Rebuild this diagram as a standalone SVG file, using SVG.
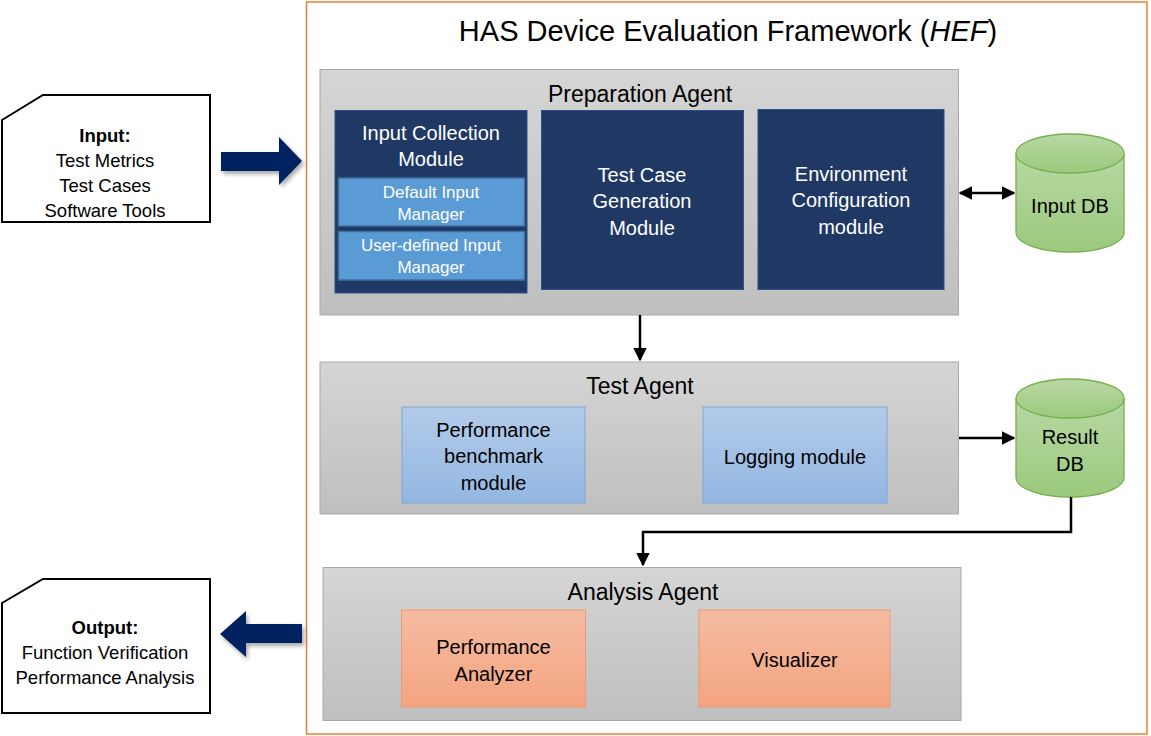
<svg xmlns="http://www.w3.org/2000/svg" width="1151" height="736" viewBox="0 0 1151 736">
  <defs>
    <linearGradient id="gPanel" x1="0" y1="0" x2="0" y2="1">
      <stop offset="0" stop-color="#d5d5d5"/>
      <stop offset="1" stop-color="#bfbfbf"/>
    </linearGradient>
    <linearGradient id="gBlue" x1="0" y1="0" x2="0" y2="1">
      <stop offset="0" stop-color="#b3cbe9"/>
      <stop offset="1" stop-color="#93b7e2"/>
    </linearGradient>
    <linearGradient id="gOrange" x1="0" y1="0" x2="0" y2="1">
      <stop offset="0" stop-color="#f5bca3"/>
      <stop offset="1" stop-color="#f4a47f"/>
    </linearGradient>
    <linearGradient id="gGreen" x1="0" y1="0" x2="0" y2="1">
      <stop offset="0" stop-color="#b8d8a4"/>
      <stop offset="1" stop-color="#9bc97d"/>
    </linearGradient>
    <filter id="shadow" x="-20%" y="-20%" width="150%" height="150%">
      <feGaussianBlur in="SourceAlpha" stdDeviation="2"/>
      <feOffset dx="2" dy="3"/>
      <feComponentTransfer><feFuncA type="linear" slope="0.35"/></feComponentTransfer>
      <feMerge><feMergeNode/><feMergeNode in="SourceGraphic"/></feMerge>
    </filter>
    <marker id="arrow" viewBox="0 0 10 10" refX="9" refY="5" markerWidth="5.5" markerHeight="5.5" orient="auto-start-reverse" markerUnits="strokeWidth">
      <path d="M0,0 L10,5 L0,10 z" fill="#000"/>
    </marker>
  </defs>
  <style>
    text { font-family: "Liberation Sans", Arial, sans-serif; text-anchor: middle; }
    .panel { fill: url(#gPanel); stroke: #a9a9a9; stroke-width: 1; }
    .ptitle { font-size: 23px; fill: #000; }
    .dark { fill: #203864; stroke: #2f4f86; stroke-width: 1; }
    .wt { fill: #fff; font-size: 20px; }
    .sub { fill: #5b9bd5; stroke: #3f6f9e; stroke-width: 1.5; }
    .st { fill: #fff; font-size: 17px; }
    .lb { fill: url(#gBlue); stroke: #7ea6d6; stroke-width: 1; }
    .ob { fill: url(#gOrange); stroke: #ef9a6c; stroke-width: 1; }
    .bt { fill: #000; font-size: 20px; }
    .db { fill: url(#gGreen); stroke: #76b04f; stroke-width: 1.3; }
    .doc { fill: #fff; stroke: #000; stroke-width: 2; }
    .dt { fill: #000; font-size: 18.5px; }
    .conn { fill: none; stroke: #000; stroke-width: 2.5; }
    .big { fill: #002060; }
  </style>

  <!-- framework boundary -->
  <g id="framework">
    <rect x="306.5" y="2" width="840.5" height="732" fill="#fff" stroke="#ed7d31" stroke-width="1.5"/>
    <text x="728" y="41" font-size="29px">HAS Device Evaluation Framework (<tspan font-style="italic">HEF</tspan>)</text>
  </g>

  <!-- input document -->
  <g id="input">
    <path class="doc" d="M2,120 L43,95 L210,95 L210,222 L2,222 Z"/>
    <text class="dt" x="105" y="142" font-weight="bold">Input:</text>
    <text class="dt" x="105" y="167">Test Metrics</text>
    <text class="dt" x="105" y="192">Test Cases</text>
    <text class="dt" x="105" y="217">Software Tools</text>
  </g>

  <!-- output document -->
  <g id="output">
    <path class="doc" d="M2,603 L43,579 L210,579 L210,713 L2,713 Z"/>
    <text class="dt" x="105" y="634" font-weight="bold">Output:</text>
    <text class="dt" x="105" y="659">Function Verification</text>
    <text class="dt" x="105" y="684">Performance Analysis</text>
  </g>

  <!-- block arrows in / out -->
  <g id="flow-in">
    <path class="big" filter="url(#shadow)" d="M221,152 L279,152 L279,137 L302,161 L279,185 L279,171 L221,171 Z"/>
  </g>
  <g id="flow-out">
    <path class="big" filter="url(#shadow)" d="M302,624 L246,624 L246,611 L220,634 L246,657 L246,643 L302,643 Z"/>
  </g>

  <!-- preparation agent -->
  <g id="preparation-agent">
    <rect class="panel" x="320" y="69.5" width="638.5" height="245.5"/>
    <text class="ptitle" x="640" y="102">Preparation Agent</text>
  </g>
  <g id="input-collection">
    <rect class="dark" x="335" y="110.5" width="192" height="182.5"/>
    <text class="wt" x="431" y="140">Input Collection</text>
    <text class="wt" x="431" y="166">Module</text>
  </g>
  <g id="default-input">
    <rect class="sub" x="338.5" y="178" width="186" height="48"/>
    <text class="st" x="431" y="198">Default Input</text>
    <text class="st" x="431" y="220">Manager</text>
  </g>
  <g id="user-input">
    <rect class="sub" x="338.5" y="231.5" width="186" height="48.5"/>
    <text class="st" x="431" y="251">User-defined Input</text>
    <text class="st" x="431" y="273">Manager</text>
  </g>
  <g id="test-case-generation">
    <rect class="dark" x="541.5" y="110.5" width="202" height="179"/>
    <text class="wt" x="642" y="182">Test Case</text>
    <text class="wt" x="642" y="208">Generation</text>
    <text class="wt" x="642" y="235">Module</text>
  </g>
  <g id="environment-configuration">
    <rect class="dark" x="758" y="109.5" width="186" height="180"/>
    <text class="wt" x="851" y="181">Environment</text>
    <text class="wt" x="851" y="207">Configuration</text>
    <text class="wt" x="851" y="234">module</text>
  </g>

  <!-- input database -->
  <g id="input-db">
    <path class="db" d="M1016,153.5 L1016,232.5 A54,19.5 0 0 0 1124,232.5 L1124,153.5"/>
    <ellipse class="db" cx="1070" cy="153.5" rx="54" ry="19.5"/>
    <text class="bt" x="1070" y="213">Input DB</text>
  </g>

  <!-- test agent -->
  <g id="test-agent">
    <rect class="panel" x="320" y="362" width="638.5" height="152"/>
    <text class="ptitle" x="640" y="394">Test Agent</text>
  </g>
  <g id="performance-benchmark">
    <rect class="lb" x="402" y="407" width="183" height="96"/>
    <text class="bt" x="493.5" y="437">Performance</text>
    <text class="bt" x="493.5" y="463">benchmark</text>
    <text class="bt" x="493.5" y="490">module</text>
  </g>
  <g id="logging">
    <rect class="lb" x="703" y="407" width="184" height="96"/>
    <text class="bt" x="795" y="464">Logging module</text>
  </g>

  <!-- result database -->
  <g id="result-db">
    <path class="db" d="M1016,398.5 L1016,477.5 A54,19.5 0 0 0 1124,477.5 L1124,398.5"/>
    <ellipse class="db" cx="1070" cy="398.5" rx="54" ry="19.5"/>
    <text class="bt" x="1070" y="444">Result</text>
    <text class="bt" x="1070" y="471">DB</text>
  </g>

  <!-- analysis agent -->
  <g id="analysis-agent">
    <rect class="panel" x="323" y="567.5" width="638" height="153"/>
    <text class="ptitle" x="643" y="600">Analysis Agent</text>
  </g>
  <g id="performance-analyzer">
    <rect class="ob" x="401.5" y="610" width="184" height="97"/>
    <text class="bt" x="493.5" y="654">Performance</text>
    <text class="bt" x="493.5" y="681">Analyzer</text>
  </g>
  <g id="visualizer">
    <rect class="ob" x="699" y="610" width="191" height="97"/>
    <text class="bt" x="794.5" y="667">Visualizer</text>
  </g>

  <!-- connectors -->
  <g id="connectors">
    <line class="conn" x1="960" y1="193" x2="1014" y2="193" marker-start="url(#arrow)" marker-end="url(#arrow)"/>
    <line class="conn" x1="640" y1="315" x2="640" y2="360" marker-end="url(#arrow)"/>
    <line class="conn" x1="959" y1="438" x2="1014" y2="438" marker-end="url(#arrow)"/>
    <polyline class="conn" points="1071,497 1071,532 643,532 643,565" marker-end="url(#arrow)"/>
  </g>
</svg>
